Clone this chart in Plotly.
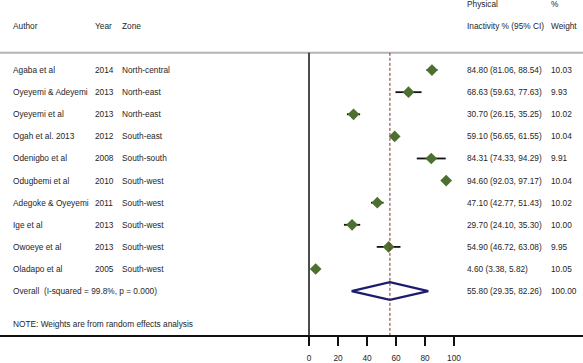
import plotly.graph_objects as go

authors = ["Agaba et al", "Oyeyemi & Adeyemi", "Oyeyemi et al", "Ogah et al. 2013",
           "Odenigbo et al", "Odugbemi et al", "Adegoke & Oyeyemi", "Ige et al",
           "Owoeye et al", "Oladapo et al"]
years = ["2014", "2013", "2013", "2012", "2008", "2010", "2011", "2013", "2013", "2005"]
zones = ["North-central", "North-east", "North-east", "South-east", "South-south",
         "South-west", "South-west", "South-west", "South-west", "South-west"]
es = [84.80, 68.63, 30.70, 59.10, 84.31, 94.60, 47.10, 29.70, 54.90, 4.60]
lo = [81.06, 59.63, 26.15, 56.65, 74.33, 92.03, 42.77, 24.10, 46.72, 3.38]
hi = [88.54, 77.63, 35.25, 61.55, 94.29, 97.17, 51.43, 35.30, 63.08, 5.82]
weights = [10.03, 9.93, 10.02, 10.04, 9.91, 10.04, 10.02, 10.00, 9.95, 10.05]
overall_es, overall_lo, overall_hi, overall_w = 55.80, 29.35, 82.26, 100.00
overall_label = "Overall\u00a0\u00a0(I-squared = 99.8%, p = 0.000)"
note = "NOTE: Weights are from random effects analysis"
tick_vals = [0, 20, 40, 60, 80, 100]

W, H = 583, 363
PLOT_H = 338
X0PX, PXU = 309, 1.45
ROW0, ROWH = 70.7, 22.3

def yrow(px):
    return (px - ROW0) / ROWH

FONT = "Liberation Sans, Arial, sans-serif"
FS = 8.3
TXT = "#262626"

rows = list(range(len(authors)))
overall_row = len(authors)

fig = go.Figure()

fig.add_trace(go.Scatter(
    x=es, y=rows, mode="markers",
    marker=dict(symbol="diamond", size=9, color="#4d6f2f", line=dict(width=0)),
    error_x=dict(type="data", symmetric=False,
                 array=[h - e for h, e in zip(hi, es)],
                 arrayminus=[e - l for e, l in zip(es, lo)],
                 width=0, thickness=1.8, color="#111111"),
    hoverinfo="skip", showlegend=False))

dh = 0.4
fig.add_trace(go.Scatter(
    x=[overall_lo, overall_es, overall_hi, overall_es, overall_lo],
    y=[overall_row, overall_row - dh, overall_row, overall_row + dh, overall_row],
    mode="lines", line=dict(color="#1c1c6e", width=2.2),
    hoverinfo="skip", showlegend=False))

sep_y = yrow(53.3)
bottom_y = yrow(PLOT_H)
shapes = [
    dict(type="line", xref="paper", yref="y", x0=0, x1=1, y0=sep_y, y1=sep_y,
         line=dict(color="#b4b4b4", width=2)),
    dict(type="line", xref="x", yref="y", x0=0, x1=0, y0=sep_y, y1=bottom_y,
         line=dict(color="#111111", width=1.5)),
    dict(type="line", xref="x", yref="y", x0=overall_es, x1=overall_es, y0=sep_y, y1=bottom_y,
         line=dict(color="#8b2a2a", width=1, dash="3px,2px")),
]

ann = []
def t(xpx, y, s):
    ann.append(dict(xref="paper", yref="y", x=xpx / W, y=y, text=s, showarrow=False,
                    xanchor="left", yanchor="middle", borderpad=0,
                    font=dict(family=FONT, size=FS, color=TXT)))

h1, h2 = yrow(4.3), yrow(26.7)
t(12, h2, "Author")
t(94, h2, "Year")
t(121, h2, "Zone")
t(466, h1, "Physical")
t(466, h2, "Inactivity % (95% CI)")
t(550, h1, "%")
t(550, h2, "Weight")

for i in rows:
    t(12, i, authors[i])
    t(94, i, years[i])
    t(121, i, zones[i])
    t(466, i, f"{es[i]:.2f} ({lo[i]:.2f}, {hi[i]:.2f})")
    t(550, i, f"{weights[i]:.2f}")

t(12, overall_row, overall_label)
t(466, overall_row, f"{overall_es:.2f} ({overall_lo:.2f}, {overall_hi:.2f})")
t(550, overall_row, f"{overall_w:.2f}")
t(12, yrow(326.7), note)

fig.update_layout(
    width=W, height=H,
    margin=dict(l=0, r=0, t=0, b=H - PLOT_H),
    paper_bgcolor="white", plot_bgcolor="white",
    shapes=shapes, annotations=ann,
    xaxis=dict(range=[-X0PX / PXU, (W - X0PX) / PXU], showgrid=False, zeroline=False,
               showline=True, linecolor="#111111", linewidth=1.5,
               ticks="outside", ticklen=9, tickwidth=2, tickcolor="#111111",
               tickvals=tick_vals, ticklabelstandoff=5,
               tickfont=dict(family=FONT, size=FS, color=TXT), fixedrange=True),
    yaxis=dict(range=[yrow(PLOT_H), yrow(0)], visible=False, fixedrange=True),
    font=dict(family=FONT, size=FS, color=TXT),
)

fig.write_html("out.html", config={"displayModeBar": False},
               post_script="document.body.style.margin='0';document.body.style.overflow='hidden';")
